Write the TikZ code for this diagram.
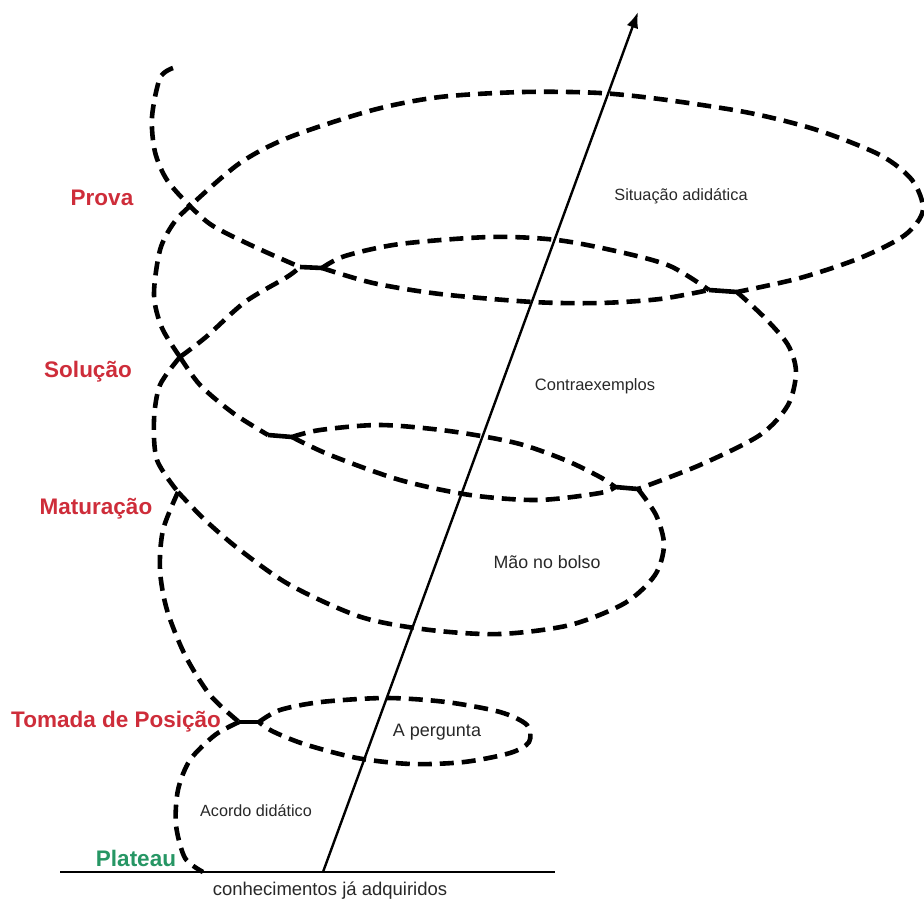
\documentclass[tikz,border=0pt]{standalone}
\usepackage{fontspec}
\setmainfont{Liberation Sans}
\usetikzlibrary{arrows.meta}
\definecolor{labred}{RGB}{206,45,58}
\definecolor{labgreen}{RGB}{38,150,100}
\definecolor{txtgray}{RGB}{40,40,40}
\begin{document}
\begin{tikzpicture}[x=1pt,y=-1pt,
  spiral/.style={line width=4.6pt, dash pattern=on 14pt off 8pt},
  linkseg/.style={line width=4.6pt},
  stage/.style={font=\fontsize{22.5}{26}\selectfont\bfseries, text=labred, inner sep=0pt, anchor=base},
  inlabel/.style={text=txtgray, inner sep=0pt}]
\useasboundingbox (0,0) rectangle (924,899);

% junction coordinates
\coordinate (T0) at (173,68);
\coordinate (X1) at (190,206);
\coordinate (J4L) at (300,267);
\coordinate (J4R) at (322,268);
\coordinate (J5L) at (709,290);
\coordinate (J5R) at (737,292);
\coordinate (J3) at (180,357);
\coordinate (J7L) at (268,435);
\coordinate (J7R) at (292,437);
\coordinate (J6L) at (615,487);
\coordinate (J6R) at (638,489);
\coordinate (J2) at (178,492);
\coordinate (J1L) at (239,722);
\coordinate (J1R) at (259,722);
\coordinate (P0) at (203,872);

% baseline and axis
\coordinate (B0) at (60,872);
\coordinate (B1) at (555,872);
\coordinate (AF) at (323,872);
\coordinate (AT) at (638,12);
\draw[line width=1.8pt] (B0) -- (B1);
\draw[line width=2.4pt, -{Latex[length=16pt,width=12pt]}] (AF) -- (AT);

% spiral
\draw[spiral] plot[smooth] coordinates {(T0) (160,78) (152,117) (155,152) (167,180) (X1) (213,226) (257,248) (J4L)};
\draw[spiral] plot[smooth] coordinates {(J3) (162,328) (154,295) (160,250) (173,224) (X1) (240,163) (290,137) (373,110) (440,97) (523,92) (600,93) (667,100) (750,113) (817,130) (880,155) (912,180) (923,210) (905,235) (860,258) (800,278) (J5R)};
\draw[spiral] plot[smooth] coordinates {(J3) (206,337) (245,302) (287,277) (J4L)};
\draw[linkseg] (J4L) -- (J4R);
\draw[spiral] plot[smooth] coordinates {(J4R) (345,256) (400,244) (490,237) (557,240) (620,252) (670,266) (J5L)};
\draw[spiral] plot[smooth] coordinates {(J4R) (373,283) (440,294) (533,302) (600,303) (660,299) (J5L)};
\draw[linkseg] (J5L) -- (J5R);
\draw[spiral] plot[smooth] coordinates {(J5R) (765,318) (788,345) (796,372) (788,405) (760,435) (700,465) (J6R)};
\draw[linkseg] (J6L) -- (J6R);
\draw[spiral] plot[smooth] coordinates {(J3) (200,385) (233,413) (J7L)};
\draw[linkseg] (J7L) -- (J7R);
\draw[spiral] plot[smooth] coordinates {(J7R) (320,430) (380,425) (449,431) (516,443) (565,460) (600,477) (J6L)};
\draw[spiral] plot[smooth] coordinates {(J7R) (330,455) (400,480) (470,495) (538,500) (600,493) (J6L)};
\draw[spiral] plot[smooth] coordinates {(J3) (160,385) (154,420) (157,460) (J2)};
\draw[spiral] plot[smooth] coordinates {(J2) (205,520) (240,550) (290,585) (361,617) (430,630) (500,634) (570,625) (625,603) (655,575) (664,545) (656,515) (J6R)};
\draw[spiral] plot[smooth] coordinates {(J2) (163,530) (160,570) (167,610) (185,655) (210,695) (J1L)};
\draw[spiral] plot[smooth] coordinates {(J1L) (215,735) (190,760) (178,790) (176,825) (185,858) (P0)};
\draw[linkseg] (J1L) -- (J1R);
\draw[spiral] plot[smooth] coordinates {(J1R) (280,710) (321,702) (386,698) (446,702) (500,712) (527,725) (529,742) (510,753) (464,762) (411,764) (357,758) (304,744) (272,731) (J1R)};

% stage labels
\node[stage] (prova) at (102,205) {Prova};
\node[stage] (solucao) at (88,377) {Solução};
\node[stage] (maturacao) at (96,514) {Maturação};
\node[stage] (tomada) at (116,727) {Tomada de Posição};
\node[stage, text=labgreen] (plateau) at (136,866) {Plateau};

% inner labels
\node[inlabel, font=\fontsize{16.3}{19}\selectfont] (sit) at (681,196) {Situação adidática};
\node[inlabel, font=\fontsize{16.5}{19}\selectfont] (contra) at (595,386) {Contraexemplos};
\node[inlabel, font=\fontsize{17.8}{21}\selectfont] (mao) at (547,562) {Mão no bolso};
\node[inlabel, font=\fontsize{18}{21}\selectfont] (perg) at (437,732) {A pergunta};
\node[inlabel, font=\fontsize{16.2}{19}\selectfont] (acordo) at (256,811) {Acordo didático};
\node[inlabel, font=\fontsize{18.5}{22}\selectfont, anchor=base] (conh) at (330,895) {conhecimentos já adquiridos};
\end{tikzpicture}
\end{document}
